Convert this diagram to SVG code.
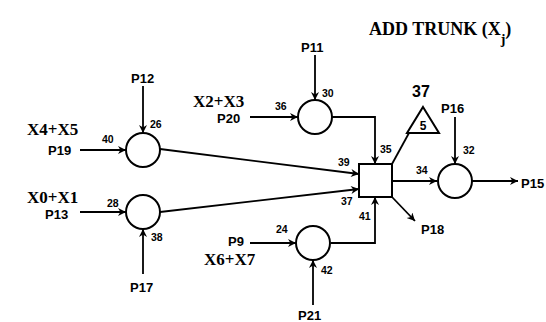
<svg xmlns="http://www.w3.org/2000/svg" width="546" height="322" viewBox="0 0 546 322">
<defs>
<marker id="ah" viewBox="0 0 10 10" refX="10" refY="5" markerWidth="9" markerHeight="8" markerUnits="userSpaceOnUse" orient="auto">
<path d="M0,0 L10,5 L0,10 L3,5 z" fill="#000"/>
</marker>
<style>
.c{fill:#fff;stroke:#000;stroke-width:2}
.e{fill:none;stroke:#000;stroke-width:1.8}
.a{marker-end:url(#ah)}
.p{font-family:"Liberation Sans",Arial,sans-serif;font-size:13px;font-weight:bold;fill:#000}
.x{font-family:"Liberation Serif","Times New Roman",serif;font-size:17px;font-weight:bold;fill:#000}
.n{font-family:"Liberation Sans",Arial,sans-serif;font-size:10.5px;font-weight:bold;fill:#000}
.t{font-family:"Liberation Serif","Times New Roman",serif;font-size:18px;font-weight:bold;fill:#000}
</style>
</defs>
<rect width="546" height="322" fill="#fff"/>
<text class="t" x="369" y="35">ADD TRUNK (X<tspan font-size="14" dy="9">j</tspan><tspan dy="-9">)</tspan></text>
<g id="connectors">
<line class="e a" x1="143" y1="86" x2="143" y2="133"/>
<line class="e a" x1="80" y1="150" x2="126" y2="150"/>
<line class="e a" x1="315" y1="55" x2="315" y2="100"/>
<line class="e a" x1="250" y1="117" x2="298" y2="117"/>
<polyline class="e a" points="332,117 375,117 375,164"/>
<line class="e a" x1="160" y1="149" x2="359" y2="174"/>
<line class="e a" x1="80" y1="212" x2="126" y2="212"/>
<line class="e a" x1="143" y1="274" x2="143" y2="229"/>
<line class="e a" x1="160" y1="212" x2="359" y2="189"/>
<line class="e a" x1="250" y1="243" x2="296" y2="243"/>
<line class="e a" x1="313" y1="305" x2="313" y2="260"/>
<polyline class="e a" points="331,243 375,243 375,197"/>
<line class="e" x1="392" y1="164" x2="409" y2="133"/>
<line class="e a" x1="392" y1="181" x2="437" y2="181"/>
<line class="e a" x1="392" y1="197" x2="415" y2="221"/>
<line class="e a" x1="455" y1="117" x2="455" y2="164"/>
<line class="e a" x1="472" y1="181" x2="518" y2="181"/>
</g>
<g id="n1"><circle class="c" cx="143" cy="150" r="17"/>
<text class="p" x="131" y="83">P12</text><text class="n" x="150" y="128">26</text>
<text class="x" x="27" y="135">X4+X5</text><text class="p" x="48" y="155">P19</text><text class="n" x="102" y="143">40</text></g>
<g id="n2"><circle class="c" cx="143" cy="212" r="17"/>
<text class="x" x="27" y="203">X0+X1</text><text class="p" x="45" y="219">P13</text><text class="n" x="107" y="207">28</text>
<text class="p" x="130" y="292">P17</text><text class="n" x="151" y="241">38</text></g>
<g id="n3"><circle class="c" cx="315" cy="117" r="17"/>
<text class="p" x="301" y="52">P11</text><text class="n" x="322" y="97">30</text>
<text class="x" x="193" y="107">X2+X3</text><text class="p" x="217" y="123">P20</text><text class="n" x="275" y="110">36</text></g>
<g id="n4"><circle class="c" cx="313" cy="243" r="17"/>
<text class="p" x="228" y="246">P9</text><text class="x" x="204" y="265">X6+X7</text><text class="n" x="276" y="233">24</text>
<text class="p" x="298" y="320">P21</text><text class="n" x="321" y="274">42</text></g>
<g id="sq"><rect class="c" x="359" y="164" width="33" height="33"/>
<text class="n" x="380" y="153">35</text><text class="n" x="338" y="166">39</text><text class="n" x="341" y="205">37</text><text class="n" x="359" y="220">41</text>
<text class="n" x="416" y="174">34</text><text class="p" x="421" y="234">P18</text></g>
<g id="tri"><polygon class="c" points="423,107 439,133 407,133" stroke-width="1.8"/>
<text x="423" y="130" text-anchor="middle" font-family="Liberation Sans,Arial,sans-serif" font-size="12" font-weight="bold">5</text>
<text x="421" y="97" text-anchor="middle" font-family="Liberation Sans,Arial,sans-serif" font-size="16" font-weight="bold">37</text></g>
<g id="n5"><circle class="c" cx="455" cy="181" r="17"/>
<text class="p" x="441" y="113">P16</text><text class="n" x="463" y="154">32</text>
<text class="p" x="521" y="188">P15</text></g>
</svg>
